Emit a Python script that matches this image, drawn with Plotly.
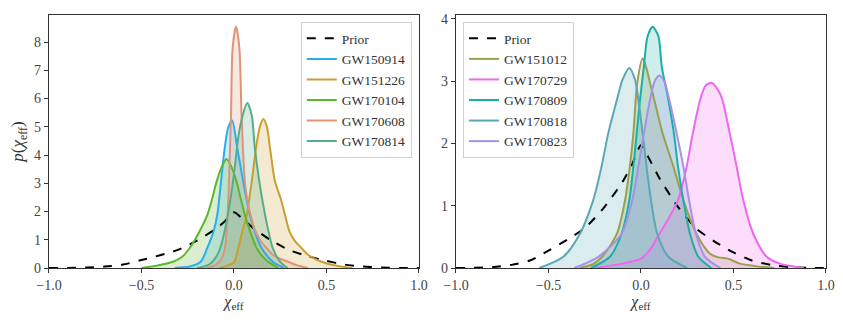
import plotly.graph_objects as go

# ─── Data ────────────────────────────────────────────────────────────────────
prior_x = [-1.0, -0.9, -0.8, -0.7, -0.6, -0.5, -0.4, -0.3, -0.2, -0.1, -0.05, 0.0,
           0.05, 0.1, 0.2, 0.3, 0.4, 0.5, 0.6, 0.7, 0.8, 0.9, 1.0]
prior_y = [0.0, 0.003, 0.015, 0.05, 0.12, 0.28, 0.45, 0.65, 0.97, 1.38, 1.65, 1.97,
           1.72, 1.44, 0.98, 0.63, 0.42, 0.25, 0.12, 0.05, 0.015, 0.003, 0.0]

gw150914_x = [-0.32, -0.24, -0.18, -0.145, -0.11, -0.09, -0.07, -0.05, -0.03, -0.01,
              0.018, 0.05, 0.086, 0.12, 0.15, 0.21, 0.27]
gw150914_y = [0.0, 0.05, 0.22, 0.7, 1.3, 1.9, 3.06, 4.25, 5.0, 5.22,
              4.24, 3.06, 1.88, 1.15, 0.7, 0.22, 0.0]

gw151226_x = [-0.08, -0.03, 0.0, 0.023, 0.045, 0.069, 0.096, 0.119, 0.14, 0.159, 0.178,
              0.195, 0.222, 0.252, 0.276, 0.30, 0.33, 0.366, 0.40, 0.474, 0.54, 0.64]
gw151226_y = [0.0, 0.1, 0.2, 0.7, 1.3, 1.88, 3.06, 4.24, 5.0, 5.28, 5.0,
              4.24, 3.06, 2.47, 1.88, 1.3, 0.95, 0.7, 0.47, 0.22, 0.1, 0.0]

gw170104_x = [-0.50, -0.42, -0.33, -0.28, -0.24, -0.19, -0.144, -0.12, -0.094, -0.065,
              -0.04, -0.015, 0.014, 0.035, 0.059, 0.09, 0.123, 0.155, 0.185, 0.24]
gw170104_y = [0.0, 0.08, 0.22, 0.4, 0.7, 1.25, 1.88, 2.4, 3.06, 3.6,
              3.86, 3.6, 3.06, 2.5, 1.88, 1.25, 0.7, 0.4, 0.22, 0.0]

gw170608_x = [-0.15, -0.10, -0.07, -0.049, -0.035, -0.027, -0.016, -0.007, 0.011, 0.029,
              0.041, 0.059, 0.075, 0.09, 0.11, 0.14, 0.177, 0.21, 0.26, 0.30, 0.34, 0.40]
gw170608_y = [0.0, 0.1, 0.3, 0.7, 1.8, 3.06, 5.4, 7.8, 8.55, 7.8,
              5.4, 3.06, 2.3, 1.88, 1.4, 1.0, 0.7, 0.47, 0.3, 0.2, 0.1, 0.0]

gw170814_x = [-0.20, -0.14, -0.11, -0.08, -0.054, -0.02, 0.005, 0.025, 0.047, 0.072,
              0.096, 0.113, 0.137, 0.168, 0.19, 0.21, 0.25, 0.29]
gw170814_y = [0.0, 0.1, 0.27, 0.6, 1.2, 2.4, 3.6, 4.7, 5.4, 5.84,
              5.4, 4.24, 3.06, 1.88, 1.2, 0.7, 0.22, 0.0]

gw151012_x = [-0.33, -0.26, -0.21, -0.13, -0.086, -0.06, -0.041, -0.02, 0.009, 0.03, 0.049,
              0.08, 0.117, 0.175, 0.229, 0.30, 0.373, 0.42, 0.47, 0.535, 0.62, 0.72]
gw151012_y = [0.0, 0.06, 0.18, 0.55, 1.09, 1.63, 2.16, 2.97, 3.36, 3.2, 2.97,
              2.6, 2.16, 1.63, 1.09, 0.55, 0.23, 0.17, 0.15, 0.07, 0.03, 0.0]

gw170729_x = [-0.25, -0.1, 0.0, 0.05, 0.1, 0.15, 0.2, 0.247, 0.28, 0.32, 0.35,
              0.384, 0.418, 0.44, 0.48, 0.517, 0.553, 0.607, 0.68, 0.75, 0.88]
gw170729_y = [0.0, 0.07, 0.15, 0.3, 0.55, 0.8, 1.09, 1.63, 2.16, 2.7, 2.93,
              2.97, 2.85, 2.7, 2.16, 1.63, 1.09, 0.55, 0.18, 0.07, 0.0]

gw170809_x = [-0.27, -0.168, -0.105, -0.063, -0.041, -0.023, -0.005, 0.016, 0.036, 0.063,
              0.094, 0.112, 0.148, 0.178, 0.2, 0.229, 0.265, 0.31, 0.38]
gw170809_y = [0.0, 0.18, 0.55, 1.09, 1.63, 2.16, 2.7, 3.24, 3.72, 3.87,
              3.72, 3.24, 2.7, 2.16, 1.63, 1.09, 0.55, 0.18, 0.0]

gw170818_x = [-0.55, -0.42, -0.33, -0.258, -0.213, -0.177, -0.13, -0.10, -0.063,
              -0.032, -0.014, 0.009, 0.03, 0.054, 0.088, 0.148, 0.25]
gw170818_y = [0.0, 0.18, 0.55, 1.09, 1.63, 2.16, 2.7, 3.02, 3.21,
              3.02, 2.7, 2.16, 1.63, 1.09, 0.55, 0.18, 0.0]

gw170823_x = [-0.36, -0.23, -0.105, -0.047, -0.014, 0.016, 0.049, 0.075, 0.099,
              0.125, 0.153, 0.193, 0.229, 0.26, 0.297, 0.346, 0.43]
gw170823_y = [0.0, 0.18, 0.55, 1.09, 1.63, 2.16, 2.7, 3.0, 3.09,
              3.0, 2.7, 2.16, 1.63, 1.09, 0.55, 0.18, 0.0]

left_events = [
    ("GW150914", gw150914_x, gw150914_y, "#27aeef"),
    ("GW151226", gw151226_x, gw151226_y, "#c99f2e"),
    ("GW170104", gw170104_x, gw170104_y, "#5cb82a"),
    ("GW170608", gw170608_x, gw170608_y, "#df9478"),
    ("GW170814", gw170814_x, gw170814_y, "#58ad86"),
]
right_events = [
    ("GW151012", gw151012_x, gw151012_y, "#9ba04f"),
    ("GW170729", gw170729_x, gw170729_y, "#f066f0"),
    ("GW170809", gw170809_x, gw170809_y, "#1ab0a5"),
    ("GW170818", gw170818_x, gw170818_y, "#5aa8b5"),
    ("GW170823", gw170823_x, gw170823_y, "#a591e8"),
]

x_ticks = [-1.0, -0.5, 0.0, 0.5, 1.0]
left_y_ticks = [0, 1, 2, 3, 4, 5, 6, 7, 8]
right_y_ticks = [0, 1, 2, 3, 4]

FONT = "Liberation Serif"
AXIS_COL = "#333333"


def _rgba(hex_col, a):
    h = hex_col.lstrip("#")
    r, g, b = int(h[0:2], 16), int(h[2:4], 16), int(h[4:6], 16)
    return f"rgba({r},{g},{b},{a})"


fig = go.Figure()

for events, xa, ya, leg in [(left_events, "x", "y", "legend"),
                            (right_events, "x2", "y2", "legend2")]:
    # fills first, no legend
    for name, xs, ys, col in events:
        fig.add_trace(go.Scatter(
            x=xs, y=ys, mode="lines", fill="tozeroy",
            fillcolor=_rgba(col, 0.22), line=dict(width=0, shape="spline", smoothing=0.8),
            showlegend=False, hoverinfo="skip", xaxis=xa, yaxis=ya,
        ))
    fig.add_trace(go.Scatter(
        x=prior_x, y=prior_y, mode="lines", name="Prior",
        line=dict(color="black", width=2, dash="dash", shape="spline", smoothing=0.6),
        xaxis=xa, yaxis=ya, legend=leg,
    ))
    for name, xs, ys, col in events:
        fig.add_trace(go.Scatter(
            x=xs, y=ys, mode="lines", name=name,
            line=dict(color=col, width=2, shape="spline", smoothing=0.8),
            xaxis=xa, yaxis=ya, legend=leg,
        ))

axis_common = dict(
    showgrid=False, zeroline=False, showline=True, mirror=True,
    linecolor=AXIS_COL, linewidth=1.3, ticks="outside", ticklen=4,
    tickwidth=1.1, tickcolor=AXIS_COL, automargin=False,
    tickfont=dict(family=FONT, size=14, color="#444444"),
)
xtitle = dict(text="<i>χ</i><sub>eff</sub>", font=dict(family=FONT, size=16, color="#333333"),
              standoff=2)

fig.update_layout(
    width=843, height=320,
    paper_bgcolor="white", plot_bgcolor="white",
    margin=dict(l=0, r=0, t=7, b=60),
    font=dict(family=FONT, color="#333333"),
    xaxis=dict(domain=[0.0486, 0.4875], range=[-1, 1], tickvals=x_ticks,
               tickformat=".1f", title=xtitle, **axis_common),
    yaxis=dict(range=[0, 8.96], tickvals=left_y_ticks,
               title=dict(text="<i>p</i>(<i>χ</i><sub>eff</sub>)",
                          font=dict(family=FONT, size=17, color="#333333"), standoff=6),
               **axis_common),
    xaxis2=dict(domain=[0.5314, 0.9703], range=[-1, 1], tickvals=x_ticks,
                tickformat=".1f", title=xtitle, anchor="y2", **axis_common),
    yaxis2=dict(range=[0, 4.06], tickvals=right_y_ticks, anchor="x2", **axis_common),
    legend=dict(x=0.479, y=0.972, xanchor="right", yanchor="top",
                bgcolor="rgba(255,255,255,0.85)", bordercolor="#d0d0d0", borderwidth=1,
                font=dict(family=FONT, size=13.5, color="#333333"),
                tracegroupgap=0, itemwidth=30),
    legend2=dict(x=0.5397, y=0.972, xanchor="left", yanchor="top",
                 bgcolor="rgba(255,255,255,0.85)", bordercolor="#d0d0d0", borderwidth=1,
                 font=dict(family=FONT, size=13.5, color="#333333"),
                 tracegroupgap=0, itemwidth=30),
)

fig.write_html("out.html")
